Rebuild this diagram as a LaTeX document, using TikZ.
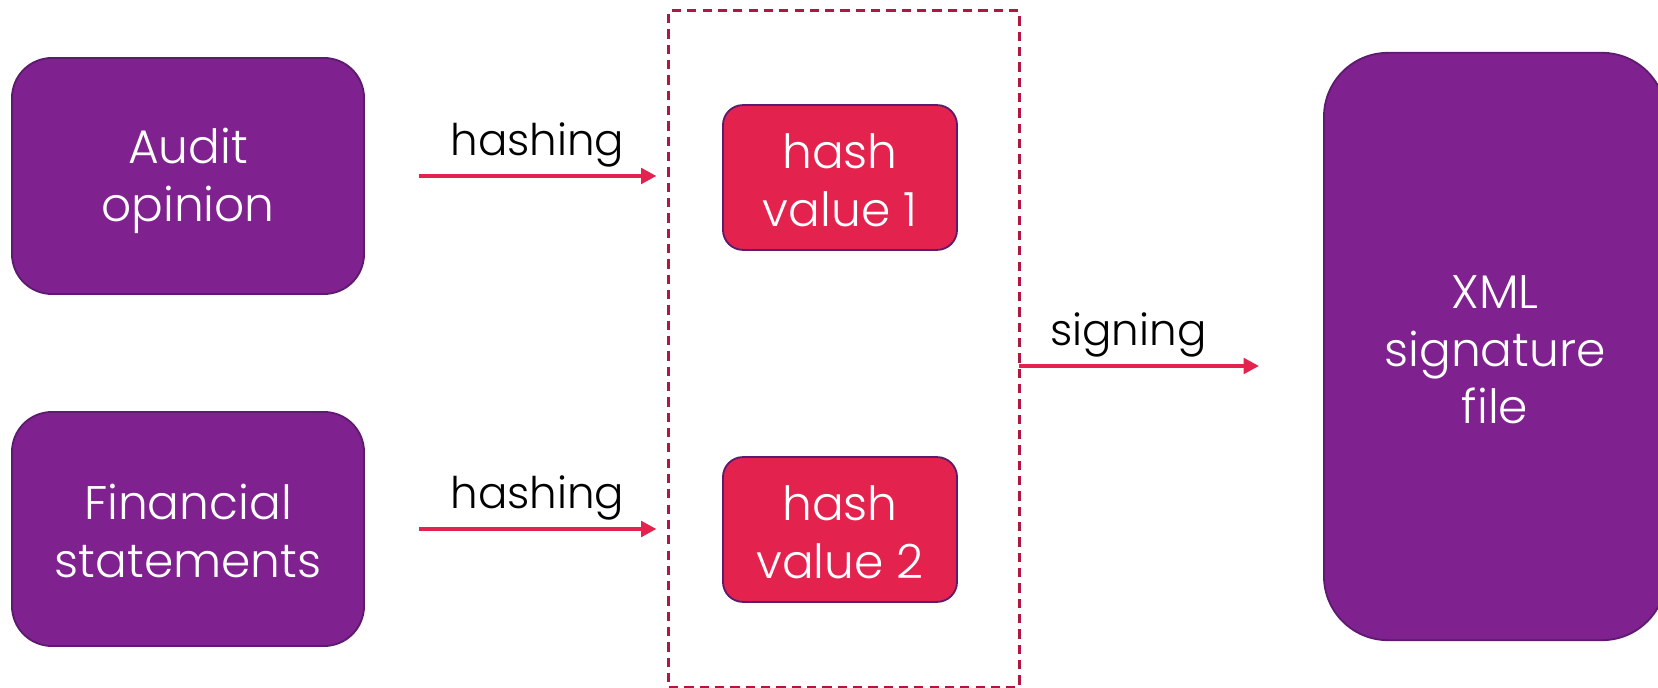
\documentclass[tikz,border=0pt]{standalone}
\usepackage{fontspec}
\setmainfont{Poppins Light}
\usetikzlibrary{arrows.meta}
\definecolor{docpurple}{RGB}{127,34,144}
\definecolor{edgepurple}{RGB}{94,26,110}
\definecolor{hashred}{RGB}{228,34,78}
\definecolor{groupred}{RGB}{176,22,64}
\newcommand{\capstrut}{\rule{0pt}{32pt}}
\newcommand{\footstrut}{\rule[-4pt]{0pt}{4pt}}
\begin{document}
\begin{tikzpicture}[x=0.025cm,y=-0.025cm,
		doc/.style={draw=edgepurple,line width=1.3pt,fill=docpurple,rounded corners=1cm,text=white,align=center,inner sep=0pt,font=\fontsize{33.5}{41}\selectfont},
		hashbox/.style={doc,fill=hashred,rounded corners=0.5cm,minimum width=5.85cm,minimum height=3.62cm},
		group/.style={draw=groupred,line width=2.1pt,dash pattern=on 6.6pt off 4.3pt,inner sep=0pt},
		flow/.style={draw=hashred,line width=2.8pt,-{Triangle[length=11pt,width=11pt]}},
		lbl/.style={anchor=base,yshift=0.5cm,font=\fontsize{31}{36}\selectfont}]
				\clip (0,0) rectangle (1658,688);
				% inputs
				\node[doc,minimum width=8.8cm,minimum height=5.9cm] (audit) at (188,176) {\capstrut Audit\\opinion\footstrut};
				\node[doc,minimum width=8.8cm,minimum height=5.85cm] (fin) at (188,529) {\capstrut Financial\\statements\footstrut};
				% hash values
				\node[group,minimum width=8.75cm,minimum height=16.9cm] (group) at (844,349) {};
				\node[hashbox] (hash1) at (840,177.5) {\capstrut hash\\value 1\footstrut};
				\node[hashbox] (hash2) at (840,529.5) {\capstrut hash\\value 2\footstrut};
				% output
				\node[doc,rounded corners=1.6cm,minimum width=8.55cm,minimum height=14.68cm] (xml) at (1495,346.5) {\capstrut XML\\signature\\file\footstrut};
				\coordinate (sig) at (1019,366);
				\draw[flow,shorten <=1.35cm,shorten >=0.275cm] (audit.east) -- (audit.east -| group.west) node[lbl,pos=0.57] {hashing};
				\draw[flow,shorten <=1.35cm,shorten >=0.275cm] (fin.east) -- (fin.east -| group.west) node[lbl,pos=0.57] {hashing};
				\draw[flow,shorten >=1.6cm] (sig) -- (sig -| xml.west) node[lbl,pos=0.36] {signing};
\end{tikzpicture}
\end{document}
